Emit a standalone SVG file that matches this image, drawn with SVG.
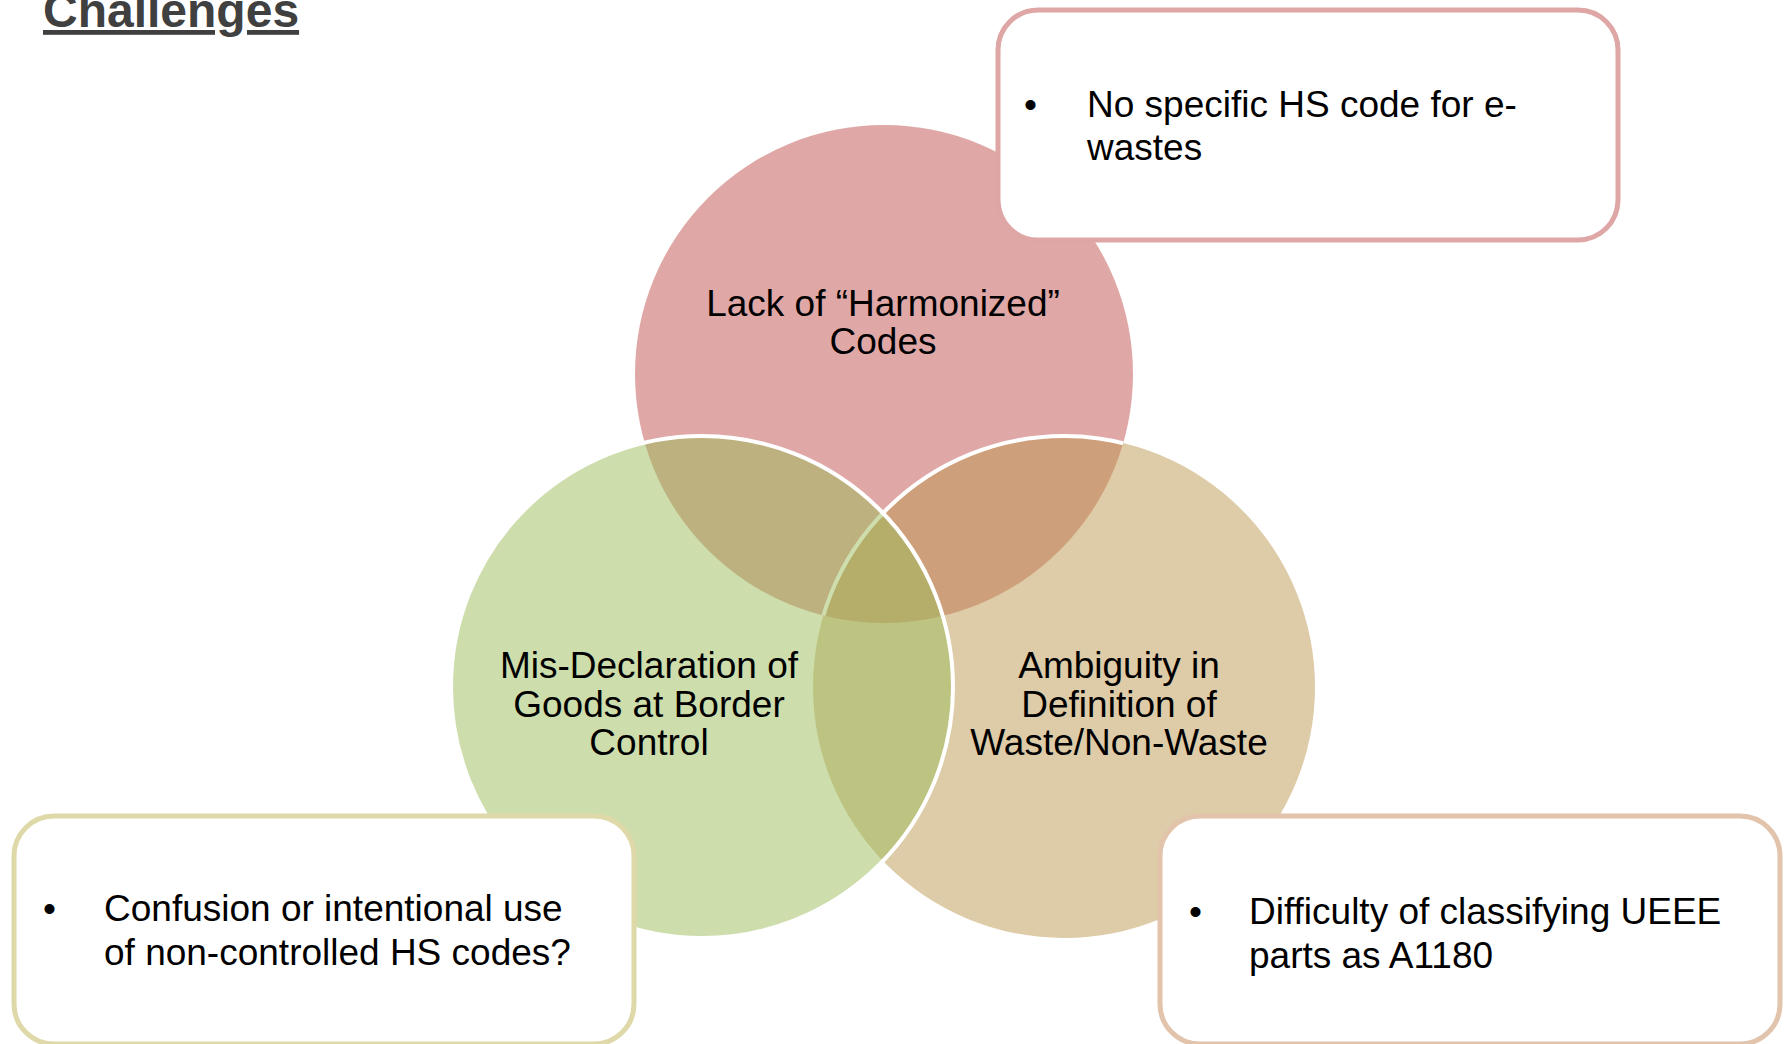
<svg xmlns="http://www.w3.org/2000/svg" width="1785" height="1044" viewBox="0 0 1785 1044">
<style>
.t{font-family:"Liberation Sans",Arial,sans-serif;font-size:37px;fill:#000}
.c{text-anchor:middle}
.box{fill:#fff;stroke-width:5}
</style>
<defs>
<clipPath id="pinkClip"><circle cx="884" cy="374" r="249"/></clipPath>
</defs>
<rect width="1785" height="1044" fill="#fff"/>
<text x="43" y="27" font-family="Liberation Sans,Arial,sans-serif" font-size="48" font-weight="bold" fill="#404040" text-decoration="underline">Challenges</text>
<g id="circle-harmonized">
<circle cx="884" cy="374" r="249" fill="#C0504D" fill-opacity="0.5"/>
</g>
<g id="circle-ambiguity">
<circle cx="1064" cy="687" r="251" fill="#BD974F" fill-opacity="0.5"/>
<circle cx="1064" cy="687" r="251" fill="none" stroke="#fff" stroke-width="4" clip-path="url(#pinkClip)"/>
</g>
<g id="circle-misdeclaration">
<circle cx="702" cy="687" r="251" fill="#9BBB59" fill-opacity="0.5" stroke="#fff" stroke-width="4"/>
</g>
<g id="labels">
<text class="t c" x="883" y="316">Lack of “Harmonized”</text>
<text class="t c" x="883" y="354">Codes</text>
<text class="t c" x="649" y="678">Mis-Declaration of</text>
<text class="t c" x="649" y="717">Goods at Border</text>
<text class="t c" x="649" y="755">Control</text>
<text class="t c" x="1119" y="678">Ambiguity in</text>
<text class="t c" x="1119" y="717">Definition of</text>
<text class="t c" x="1119" y="755">Waste/Non-Waste</text>
</g>
<g id="box-hs-code">
<rect class="box" x="998" y="10" width="620" height="230" rx="40" stroke="#DFA6A6"/>
<text class="t" x="1024" y="117">•</text>
<text class="t" x="1087" y="117">No specific HS code for e-</text>
<text class="t" x="1087" y="160">wastes</text>
</g>
<g id="box-confusion">
<rect class="box" x="14" y="816" width="620" height="228" rx="40" stroke="#DFD9A9"/>
<text class="t" x="43" y="921">•</text>
<text class="t" x="104" y="921">Confusion or intentional use</text>
<text class="t" x="104" y="965">of non-controlled HS codes?</text>
</g>
<g id="box-classifying">
<rect class="box" x="1160" y="816" width="620" height="228" rx="40" stroke="#E2C4AC"/>
<text class="t" x="1189" y="924">•</text>
<text class="t" x="1249" y="924">Difficulty of classifying UEEE</text>
<text class="t" x="1249" y="968">parts as A1180</text>
</g>
<g id="connectors"></g>
</svg>
